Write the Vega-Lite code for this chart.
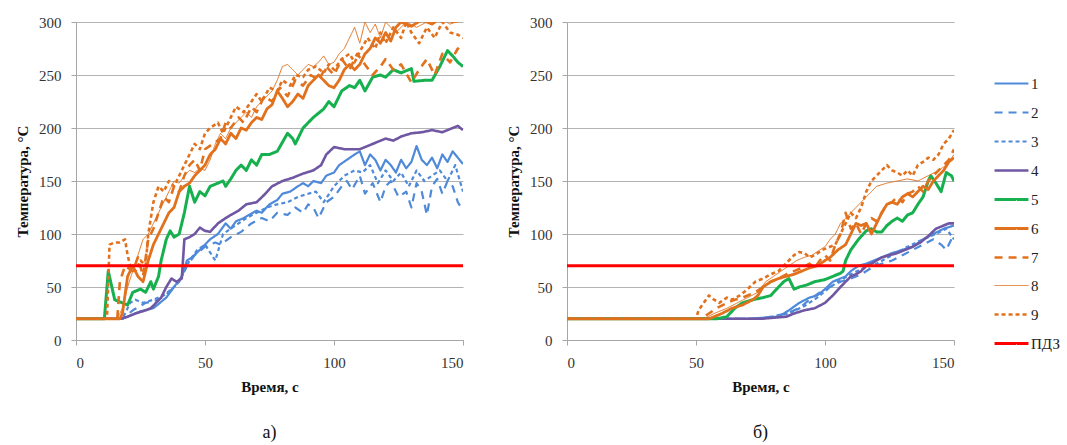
{
  "$schema": "https://vega.github.io/schema/vega-lite/v6.json",
  "background": "white",
  "padding": {"left": 15, "top": 15, "right": 5, "bottom": 5},
  "config": {
    "font": "Liberation Serif",
    "view": {"stroke": null},
    "concat": {"spacing": 42},
    "axis": {
      "labelFont": "Liberation Serif", "labelFontSize": 15, "labelColor": "#333333",
      "titleFont": "Liberation Serif", "titleFontSize": 15, "titleFontWeight": "bold", "titleColor": "#111111",
      "domainColor": "#A6A6A6", "tickColor": "#A6A6A6", "gridColor": "#B3B3B3", "tickSize": 5
    },
    "axisX": {"grid": false, "labelPadding": 10, "titlePadding": 9},
    "axisY": {"grid": true, "labelPadding": 10, "titlePadding": 8},
    "legend": {"labelFont": "Liberation Serif"},
    "title": {"font": "Liberation Serif"}
  },
  "datasets": {
    "d": [
      {"p": "a", "s": "1", "t": [0,18,20,25,30,35,38,41,43,45,48,52,55,58,60,62,65,67,70,72,75,78,80,83,86,88,90,92,95,97,100,102,105,108,110,112,114,116,118,120,122,124,126,128,130,132,134,136,138,140,142,144,146,148,150], "v": [20,20,22,27,30,40,50,60,75,78,85,95,100,110,105,112,115,118,122,120,128,132,138,140,145,148,145,150,148,155,158,165,170,175,178,165,175,170,160,170,165,158,170,162,168,183,170,165,172,162,175,168,178,172,166]},
      {"p": "a", "s": "2", "t": [0,18,22,27,32,36,40,43,46,50,54,56,60,64,68,72,75,78,82,85,88,90,92,94,97,100,103,105,107,110,112,115,118,120,122,125,128,130,132,134,136,138,140,142,144,146,148,150], "v": [20,20,28,35,38,45,55,70,80,88,92,90,97,102,110,115,112,120,118,125,120,128,125,115,130,135,145,150,142,155,138,148,130,145,150,135,140,125,148,140,118,145,152,138,150,145,130,122]},
      {"p": "a", "s": "3", "t": [0,18,21,23,26,30,34,38,41,44,47,50,54,57,60,63,66,70,74,78,82,86,90,93,96,100,104,108,111,114,117,120,123,126,129,132,135,138,141,144,147,150], "v": [20,20,35,38,35,38,42,50,60,75,85,90,75,100,105,110,115,120,125,128,130,135,138,140,130,145,155,160,158,165,148,160,150,158,145,160,150,155,160,150,165,140]},
      {"p": "a", "s": "4", "t": [0,17,20,23,27,29,31,33,35,37,39,41,42,44,46,48,50,52,55,58,60,63,66,70,73,76,80,84,88,92,95,97,100,104,107,110,113,117,120,123,126,130,134,138,142,146,148,150], "v": [20,20,22,25,28,30,35,40,50,58,55,58,95,97,100,106,103,102,110,115,118,122,128,130,137,145,150,153,157,160,165,175,182,180,180,180,183,187,190,188,192,195,196,198,196,200,202,198]},
      {"p": "a", "s": "5", "t": [0,11,12.5,15,18,20,22,25,27,29,30,32,33,35,36.5,38,40,42,44,46,48,50,52,55,57,58,60,62,64,66,68,70,72,75,78,82,84,85,88,92,96,98,100,103,106,108,110,112,115,118,120,123,126,130,131,135,138,141,144,146,148,150], "v": [20,20,65,38,35,33,45,48,45,55,48,60,75,95,103,97,100,120,145,130,140,136,145,148,150,145,152,160,165,160,170,165,175,175,178,195,190,185,200,210,218,225,220,235,240,238,245,235,248,250,248,255,252,256,244,245,245,258,273,268,262,258]},
      {"p": "a", "s": "6", "t": [0,17,18,20,22,24,26,28,30,32,34,36,38,40,42,44,46,48,50,52,54,56,58,60,62,64,66,68,70,72,74,76,78,80,82,84,86,88,90,92,94,96,98,100,102,104,106,108,110,112,114,116,118,120,122,124,126,130,134,138,142,146,150], "v": [20,20,25,60,70,60,55,75,90,100,110,120,125,140,145,148,155,160,165,175,180,190,185,195,190,200,198,205,210,208,218,222,235,228,220,225,232,228,240,245,250,245,240,238,245,255,260,255,260,270,275,285,280,290,282,295,300,296,302,298,305,300,302]},
      {"p": "a", "s": "7", "t": [0,16,17,19,22,24,26,28,30,32,34,36,38,40,42,44,46,48,50,53,56,58,60,63,65,68,70,73,76,79,82,85,88,91,94,97,100,103,106,109,112,115,118,120,123,126,130,133,136,139,142,145,148,150], "v": [20,20,55,70,65,78,60,95,105,120,135,130,145,140,155,165,170,160,180,185,190,205,200,210,205,220,215,230,225,238,230,245,240,250,245,258,250,265,255,270,260,250,258,265,255,260,243,255,265,250,270,262,275,270]},
      {"p": "a", "s": "8", "t": [0,16,18,20,22,24,26,28,30,32,34,36,38,40,42,44,46,48,50,52,54,56,58,60,62,64,66,68,70,72,74,76,78,80,82,84,86,88,90,92,94,96,98,100,102,104,106,108,110,112,114,116,118,120,124,128,132,136,140,145,150], "v": [20,20,30,50,65,80,95,100,110,120,130,140,150,148,155,160,158,162,160,170,185,195,190,200,205,210,215,210,220,225,230,235,245,258,260,255,250,255,260,258,262,268,260,262,270,275,285,295,280,300,290,298,285,300,290,300,295,300,305,298,303]},
      {"p": "a", "s": "9", "t": [0,12,13,15,17,19,20,21,23,25,27,28,30,32,34,36,38,40,42,44,46,48,50,52,55,57,60,62,65,68,70,72,75,78,80,83,85,88,90,93,96,98,100,103,106,108,110,113,116,118,120,123,126,128,130,133,136,139,142,145,148,150], "v": [20,20,90,92,92,95,80,70,65,75,70,100,130,145,140,150,145,155,165,175,185,180,195,200,205,195,210,220,215,225,232,225,238,235,245,240,250,248,255,258,252,260,255,265,270,262,272,285,275,290,280,295,285,300,290,280,295,285,300,290,288,285]},
      {"p": "a", "s": "ПДЗ", "t": [0,150], "v": [70,70]},
      {"p": "b", "s": "1", "t": [0,70,82,86,90,94,97,100,103,106,108,110,113,116,119,122,126,130,134,138,142,146,150], "v": [20,20,22,28,35,40,42,48,55,58,60,65,70,72,75,78,82,85,88,95,100,105,108]},
      {"p": "b", "s": "2", "t": [0,75,85,90,94,98,102,106,110,114,118,122,126,130,134,138,142,145,147,150], "v": [20,20,25,30,38,45,50,55,58,62,68,72,75,80,85,90,95,90,85,100]},
      {"p": "b", "s": "3", "t": [0,75,86,92,97,101,105,110,115,120,126,132,138,143,147,150], "v": [20,20,25,32,40,48,55,62,68,72,80,88,95,100,105,95]},
      {"p": "b", "s": "4", "t": [0,65,75,80,85,88,92,96,100,103,106,108,110,112,114,116,118,120,122,125,128,131,134,137,140,143,146,148,150], "v": [20,20,20,21,22,25,28,30,35,42,50,55,60,62,65,70,72,75,78,80,82,85,88,92,98,105,108,110,110]},
      {"p": "b", "s": "5", "t": [0,58,62,65,68,72,76,79,82,84,86,88,90,93,96,100,103,106,107,108,110,113,116,118,120,122,124,126,128,130,132,134,136,138,140,141,143,145,147,149,150], "v": [20,20,22,30,35,38,40,42,50,55,58,48,50,52,55,57,60,63,65,75,85,95,103,105,102,102,108,112,115,112,118,120,128,135,150,155,148,140,158,155,150]},
      {"p": "b", "s": "6", "t": [0,55,60,64,68,72,74,76,79,82,85,88,91,94,97,100,102,105,108,110,112,114,116,118,120,122,124,126,128,130,132,134,136,138,140,142,144,146,148,150], "v": [20,20,25,30,33,38,42,50,55,58,60,62,65,68,70,75,78,85,90,100,110,108,110,100,110,120,128,130,128,135,138,135,140,145,142,150,155,160,168,172]},
      {"p": "b", "s": "7", "t": [0,52,55,58,62,65,68,70,73,76,79,82,85,88,91,94,96,98,100,102,104,106,108,110,112,114,116,118,120,122,124,126,128,130,132,134,136,138,140,142,144,146,148,150], "v": [20,20,25,30,35,38,40,42,45,50,55,58,62,65,68,72,68,75,80,75,90,100,120,105,110,100,110,115,112,120,128,130,135,130,138,140,145,140,150,155,160,165,170,180]},
      {"p": "b", "s": "8", "t": [0,53,57,62,66,70,74,77,80,83,86,89,92,95,98,100,102,104,106,108,110,112,114,116,118,120,124,128,132,136,140,144,147,150], "v": [20,20,25,30,35,40,45,55,60,65,70,75,78,80,85,88,95,100,110,115,120,125,130,135,140,145,148,150,152,150,155,160,165,175]},
      {"p": "b", "s": "9", "t": [0,50,51,53,55,57,59,62,64,67,70,73,76,79,82,84,86,88,90,92,94,96,99,102,104,106,108,110,112,114,116,118,120,122,124,126,128,130,132,134,136,138,140,142,144,146,148,150], "v": [20,20,28,35,42,38,35,40,38,42,48,55,58,62,65,70,75,80,83,82,78,80,85,88,90,100,110,120,115,125,140,150,155,160,165,160,158,155,160,155,165,168,172,170,175,185,190,198]},
      {"p": "b", "s": "ПДЗ", "t": [0,150], "v": [70,70]}
    ]
  },
  "hconcat": [
    {
      "width": 387, "height": 318,
      "title": {"text": "а)", "orient": "bottom", "frame": "group", "font": "Liberation Serif", "fontSize": 18, "fontWeight": "normal", "color": "#111111", "offset": 30},
      "data": {"name": "d"},
      "transform": [{"filter": "datum.p === 'a'"}, {"flatten": ["t", "v"]}],
      "mark": {"type": "line", "clip": true, "strokeJoin": "round"},
      "encoding": {
        "x": {"field": "t", "type": "quantitative", "scale": {"domain": [0, 150], "nice": false}, "axis": {"values": [0, 50, 100, 150], "title": "Время, с", "labelFont": "Liberation Serif", "titleFont": "Liberation Serif"}},
        "y": {"field": "v", "type": "quantitative", "scale": {"domain": [0, 300], "nice": false}, "axis": {"values": [0, 50, 100, 150, 200, 250, 300], "title": "Температура, °С", "labelFont": "Liberation Serif", "titleFont": "Liberation Serif"}},
        "color": {"field": "s", "type": "ordinal", "title": null,
          "scale": {"type": "ordinal", "domain": ["1","2","3","4","5","6","7","8","9","ПДЗ"], "range": ["#4F8AD9","#4F8AD9","#4F8AD9","#6F57A3","#17B04F","#E2711D","#E2711D","#E2711D","#E2711D","#FF0000"]},
          "legend": {"orient": "none", "legendX": 917, "legendY": 43, "symbolType": "stroke", "symbolSize": 1150, "labelFont": "Liberation Serif", "labelFontSize": 15, "labelColor": "#222222", "rowPadding": 2, "labelOffset": 1}},
        "strokeDash": {"field": "s", "type": "ordinal", "title": null,
          "scale": {"type": "ordinal", "domain": ["1","2","3","4","5","6","7","8","9","ПДЗ"], "range": [[1,0],[8,6],[4,3],[1,0],[1,0],[1,0],[8,6],[1,0],[4,3],[1,0]]}},
        "strokeWidth": {"field": "s", "type": "ordinal", "title": null,
          "scale": {"type": "ordinal", "domain": ["1","2","3","4","5","6","7","8","9","ПДЗ"], "range": [2.2,2.2,2.2,2.6,3,2.8,2.6,1,2.6,3]}}
      }
    },
    {
      "width": 387, "height": 318,
      "title": {"text": "б)", "orient": "bottom", "frame": "group", "font": "Liberation Serif", "fontSize": 18, "fontWeight": "normal", "color": "#111111", "offset": 30},
      "data": {"name": "d"},
      "transform": [{"filter": "datum.p === 'b'"}, {"flatten": ["t", "v"]}],
      "mark": {"type": "line", "clip": true, "strokeJoin": "round"},
      "encoding": {
        "x": {"field": "t", "type": "quantitative", "scale": {"domain": [0, 150], "nice": false}, "axis": {"values": [0, 50, 100, 150], "title": "Время, с", "labelFont": "Liberation Serif", "titleFont": "Liberation Serif"}},
        "y": {"field": "v", "type": "quantitative", "scale": {"domain": [0, 300], "nice": false}, "axis": {"values": [0, 50, 100, 150, 200, 250, 300], "title": "Температура, °С", "labelFont": "Liberation Serif", "titleFont": "Liberation Serif"}},
        "color": {"field": "s", "type": "ordinal", "title": null,
          "scale": {"type": "ordinal", "domain": ["1","2","3","4","5","6","7","8","9","ПДЗ"], "range": ["#4F8AD9","#4F8AD9","#4F8AD9","#6F57A3","#17B04F","#E2711D","#E2711D","#E2711D","#E2711D","#FF0000"]}},
        "strokeDash": {"field": "s", "type": "ordinal", "title": null,
          "scale": {"type": "ordinal", "domain": ["1","2","3","4","5","6","7","8","9","ПДЗ"], "range": [[1,0],[8,6],[4,3],[1,0],[1,0],[1,0],[8,6],[1,0],[4,3],[1,0]]}},
        "strokeWidth": {"field": "s", "type": "ordinal", "title": null,
          "scale": {"type": "ordinal", "domain": ["1","2","3","4","5","6","7","8","9","ПДЗ"], "range": [2.2,2.2,2.2,2.6,3,2.8,2.6,1,2.6,3]}}
      }
    }
  ]
}
